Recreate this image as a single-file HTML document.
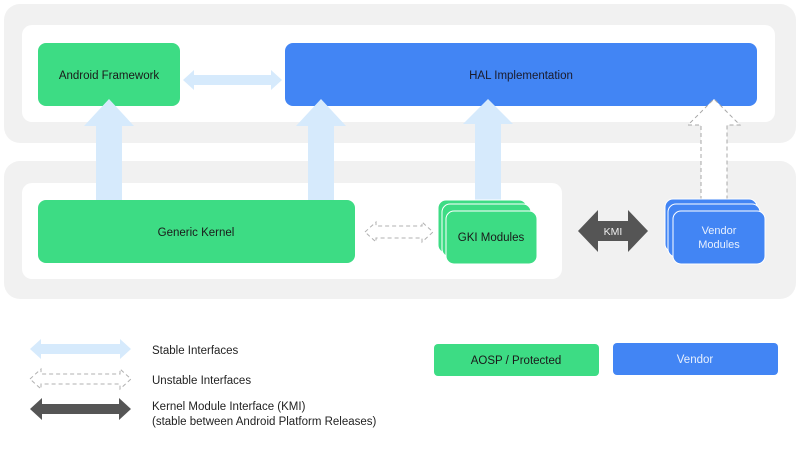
<!DOCTYPE html>
<html><head><meta charset="utf-8"><style>
html,body{margin:0;padding:0;background:#fff;}
svg{display:block;font-family:"Liberation Sans",sans-serif;}
</style></head><body>
<svg width="800" height="450" viewBox="0 0 800 450" xmlns="http://www.w3.org/2000/svg">
<rect x="0" y="0" width="800" height="450" fill="#fff"/>
<!-- panels -->
<rect x="4" y="4" width="792" height="139" rx="16" fill="#f1f1f1"/>
<rect x="22" y="25" width="753" height="97" rx="10" fill="#fff"/>
<rect x="4" y="161" width="792" height="138" rx="16" fill="#f1f1f1"/>
<rect x="22" y="183" width="540" height="96" rx="10" fill="#fff"/>

<!-- boxes -->
<rect x="38" y="43" width="142" height="63" rx="8" fill="#3ddc84"/>
<text x="109" y="79" font-size="11.5" text-anchor="middle" fill="#1a1a1a">Android Framework</text>
<rect x="285" y="43" width="472" height="63" rx="8" fill="#4285f4"/>
<text x="521" y="79" font-size="11.5" text-anchor="middle" fill="#1a1a2a">HAL Implementation</text>

<!-- horizontal stable arrow -->
<polygon points="183,80 194,70 194,75 271,75 271,70 282,80 271,90 271,85 194,85 194,90" fill="#d6eafc"/>

<!-- up stable arrows -->
<polygon points="96,200 96,126 84,126 109,99 134,126 122,126 122,200" fill="#d6eafc"/>
<polygon points="308,200 308,126 296,126 321,99 346,126 334,126 334,200" fill="#d6eafc"/>
<polygon points="475,200 475,124 463,124 488,99 513,124 501,124 501,200" fill="#d6eafc"/>
<!-- dashed up arrow -->
<polygon points="701,200 701,125 688,125 714,99 740,125 727,125 727,200" fill="#fff" stroke="#a8a8a8" stroke-width="1" stroke-dasharray="4,3"/>

<!-- generic kernel -->
<rect x="38" y="200" width="317" height="63" rx="8" fill="#3ddc84"/>
<text x="196" y="236" font-size="11.5" text-anchor="middle" fill="#1a1a1a">Generic Kernel</text>

<!-- dashed horizontal -->
<polygon points="365,232 376,222 376,226 422,226 422,222 433,232 422,242 422,238 376,238 376,242" fill="#fff" stroke="#b0b0b0" stroke-width="1" stroke-dasharray="4,3"/>

<!-- GKI modules -->
<rect x="438" y="200" width="89" height="53" rx="8" fill="#3ddc84" stroke="#fff" stroke-width="1"/>
<rect x="442" y="204" width="89" height="53" rx="8" fill="#3ddc84" stroke="#fff" stroke-width="1"/>
<rect x="446" y="211" width="91" height="53" rx="8" fill="#3ddc84" stroke="#fff" stroke-width="1"/>
<text x="491" y="241" font-size="11.5" text-anchor="middle" fill="#1a1a1a">GKI Modules</text>

<!-- KMI arrow -->
<polygon points="578,231 598,210 598,221 628,221 628,210 648,231 628,252 628,241 598,241 598,252" fill="#555"/>
<text x="613" y="235" font-size="10.5" text-anchor="middle" fill="#eee">KMI</text>

<!-- vendor modules -->
<rect x="665" y="199" width="92" height="53" rx="8" fill="#4285f4" stroke="#fff" stroke-width="1"/>
<rect x="668" y="204" width="92" height="53" rx="8" fill="#4285f4" stroke="#fff" stroke-width="1"/>
<rect x="673" y="211" width="92" height="53" rx="8" fill="#4285f4" stroke="#fff" stroke-width="1"/>
<text x="719" y="234" font-size="11" text-anchor="middle" fill="#e8f0fe">Vendor</text>
<text x="719" y="248" font-size="11" text-anchor="middle" fill="#e8f0fe">Modules</text>

<!-- legend -->
<polygon points="30,349 41,339 41,344 120,344 120,339 131,349 120,359 120,354 41,354 41,359" fill="#d6eafc"/>
<polygon points="30,379 41,369 41,374 120,374 120,369 131,379 120,389 120,384 41,384 41,389" fill="#fff" stroke="#b0b0b0" stroke-width="1" stroke-dasharray="4,3"/>
<polygon points="30,409 42,398 42,404 119,404 119,398 131,409 119,420 119,414 42,414 42,420" fill="#555"/>
<text x="152" y="354" font-size="11.5" fill="#222">Stable Interfaces</text>
<text x="152" y="384" font-size="11.5" fill="#222">Unstable Interfaces</text>
<text x="152" y="410" font-size="11.5" fill="#222">Kernel Module Interface (KMI)</text>
<text x="152" y="425" font-size="11.5" fill="#222">(stable between Android Platform Releases)</text>

<rect x="434" y="344" width="165" height="32" rx="4" fill="#3ddc84"/>
<text x="516" y="364" font-size="11.5" text-anchor="middle" fill="#1a1a1a">AOSP / Protected</text>
<rect x="613" y="343" width="165" height="32" rx="4" fill="#4285f4"/>
<text x="695" y="363" font-size="11.5" text-anchor="middle" fill="#e8f0fe">Vendor</text>
</svg>
</body></html>
